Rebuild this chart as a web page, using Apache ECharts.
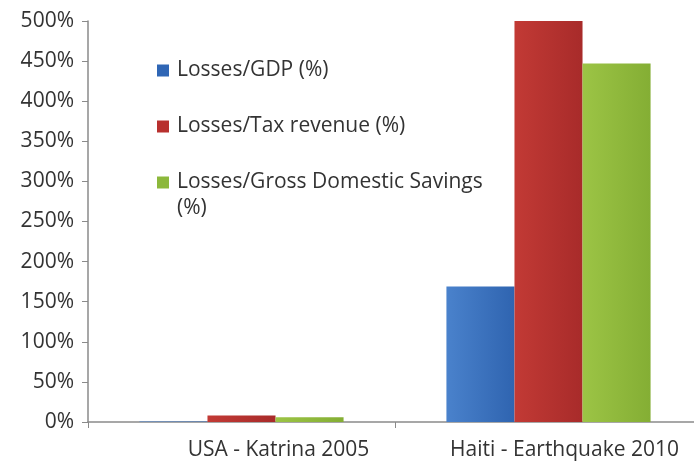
<!DOCTYPE html>
<html><head><meta charset="utf-8">
<script src="https://cdn.jsdelivr.net/npm/echarts@6/dist/echarts.min.js"></script>
<style>html,body{margin:0;padding:0;background:#fff;overflow:hidden;width:694px;height:462px}#c{width:702px;height:462px}</style>
</head><body><div id="c"></div>
<script>
const categories = ['USA - Katrina 2005', 'Haiti - Earthquake 2010'];
const seriesNames = ['Losses/GDP (%)', 'Losses/Tax revenue (%)', 'Losses/Gross Domestic Savings (%)'];
const gdpValues = [0.5, 169];
const taxValues = [8, 500];
const savingsValues = [6, 447];
const yTicks = [0, 50, 100, 150, 200, 250, 300, 350, 400, 450, 500];

const font = 'Open Sans';
function grad(c1, c2) {
  return new echarts.graphic.LinearGradient(0, 0, 1, 0, [{offset: 0, color: c1}, {offset: 1, color: c2}]);
}
const colors = [grad('#4a82cc', '#2f64b0'), grad('#c23a35', '#a82b2a'), grad('#9cc445', '#84ae34')];
const legendColors = ['#2f66b5', '#b8302e', '#8cb83b'];
const chart = echarts.init(document.getElementById('c'));
const vals = [gdpValues, taxValues, savingsValues];
chart.setOption({
  animation: false,
  textStyle: {fontFamily: font},
  grid: {left: 88, right: 0, top: 21, bottom: 40, containLabel: false},
  legend: {
    orient: 'vertical', left: 152, top: 55, itemGap: 35,
    itemWidth: 12, itemHeight: 12, icon: 'rect',
    textStyle: {fontFamily: font, fontSize: 21, color: '#333', padding: [0, 0, 0, 3]},
    formatter: n => n.replace(' (%)', n.indexOf('Savings') >= 0 ? '' : ' (%)'),
    data: seriesNames.map((n, i) => ({name: n, itemStyle: {color: legendColors[i]}}))
  },
  graphic: [{type: 'text', left: 177, top: 198, style: {text: '(%)', fontFamily: font, fontSize: 21, fill: '#333'}}],
  xAxis: {
    type: 'category', data: categories,
    axisLine: {lineStyle: {color: '#8a8a8a', width: 1.5}},
    axisTick: {show: true, interval: 0, length: 6, lineStyle: {color: '#8a8a8a'}},
    axisLabel: {
      interval: 0, hideOverlap: false,
      fontFamily: font, fontSize: 21, color: '#333', margin: 18,
      formatter: (v, i) => i === 0 ? '{a|' + v + '}' : '{b|' + v + '}',
      rich: {
        a: {fontFamily: font, fontSize: 21, color: '#333', padding: [0, 0, 0, 74]},
        b: {fontFamily: font, fontSize: 21, color: '#333', padding: [0, 0, 0, 32]}
      }
    }
  },
  yAxis: {
    type: 'value', min: 0, max: 500, interval: 50,
    axisLine: {show: true, lineStyle: {color: '#8a8a8a', width: 1.5}},
    axisTick: {show: true, length: 6, lineStyle: {color: '#8a8a8a'}},
    splitLine: {show: false},
    axisLabel: {fontFamily: font, fontSize: 21, color: '#333', margin: 14, formatter: v => v + '%'}
  },
  series: seriesNames.map((n, i) => ({
    name: n, type: 'bar', data: vals[i], barGap: '0%', barCategoryGap: '33.5%',
    itemStyle: {color: colors[i]}
  }))
});
</script></body></html>
